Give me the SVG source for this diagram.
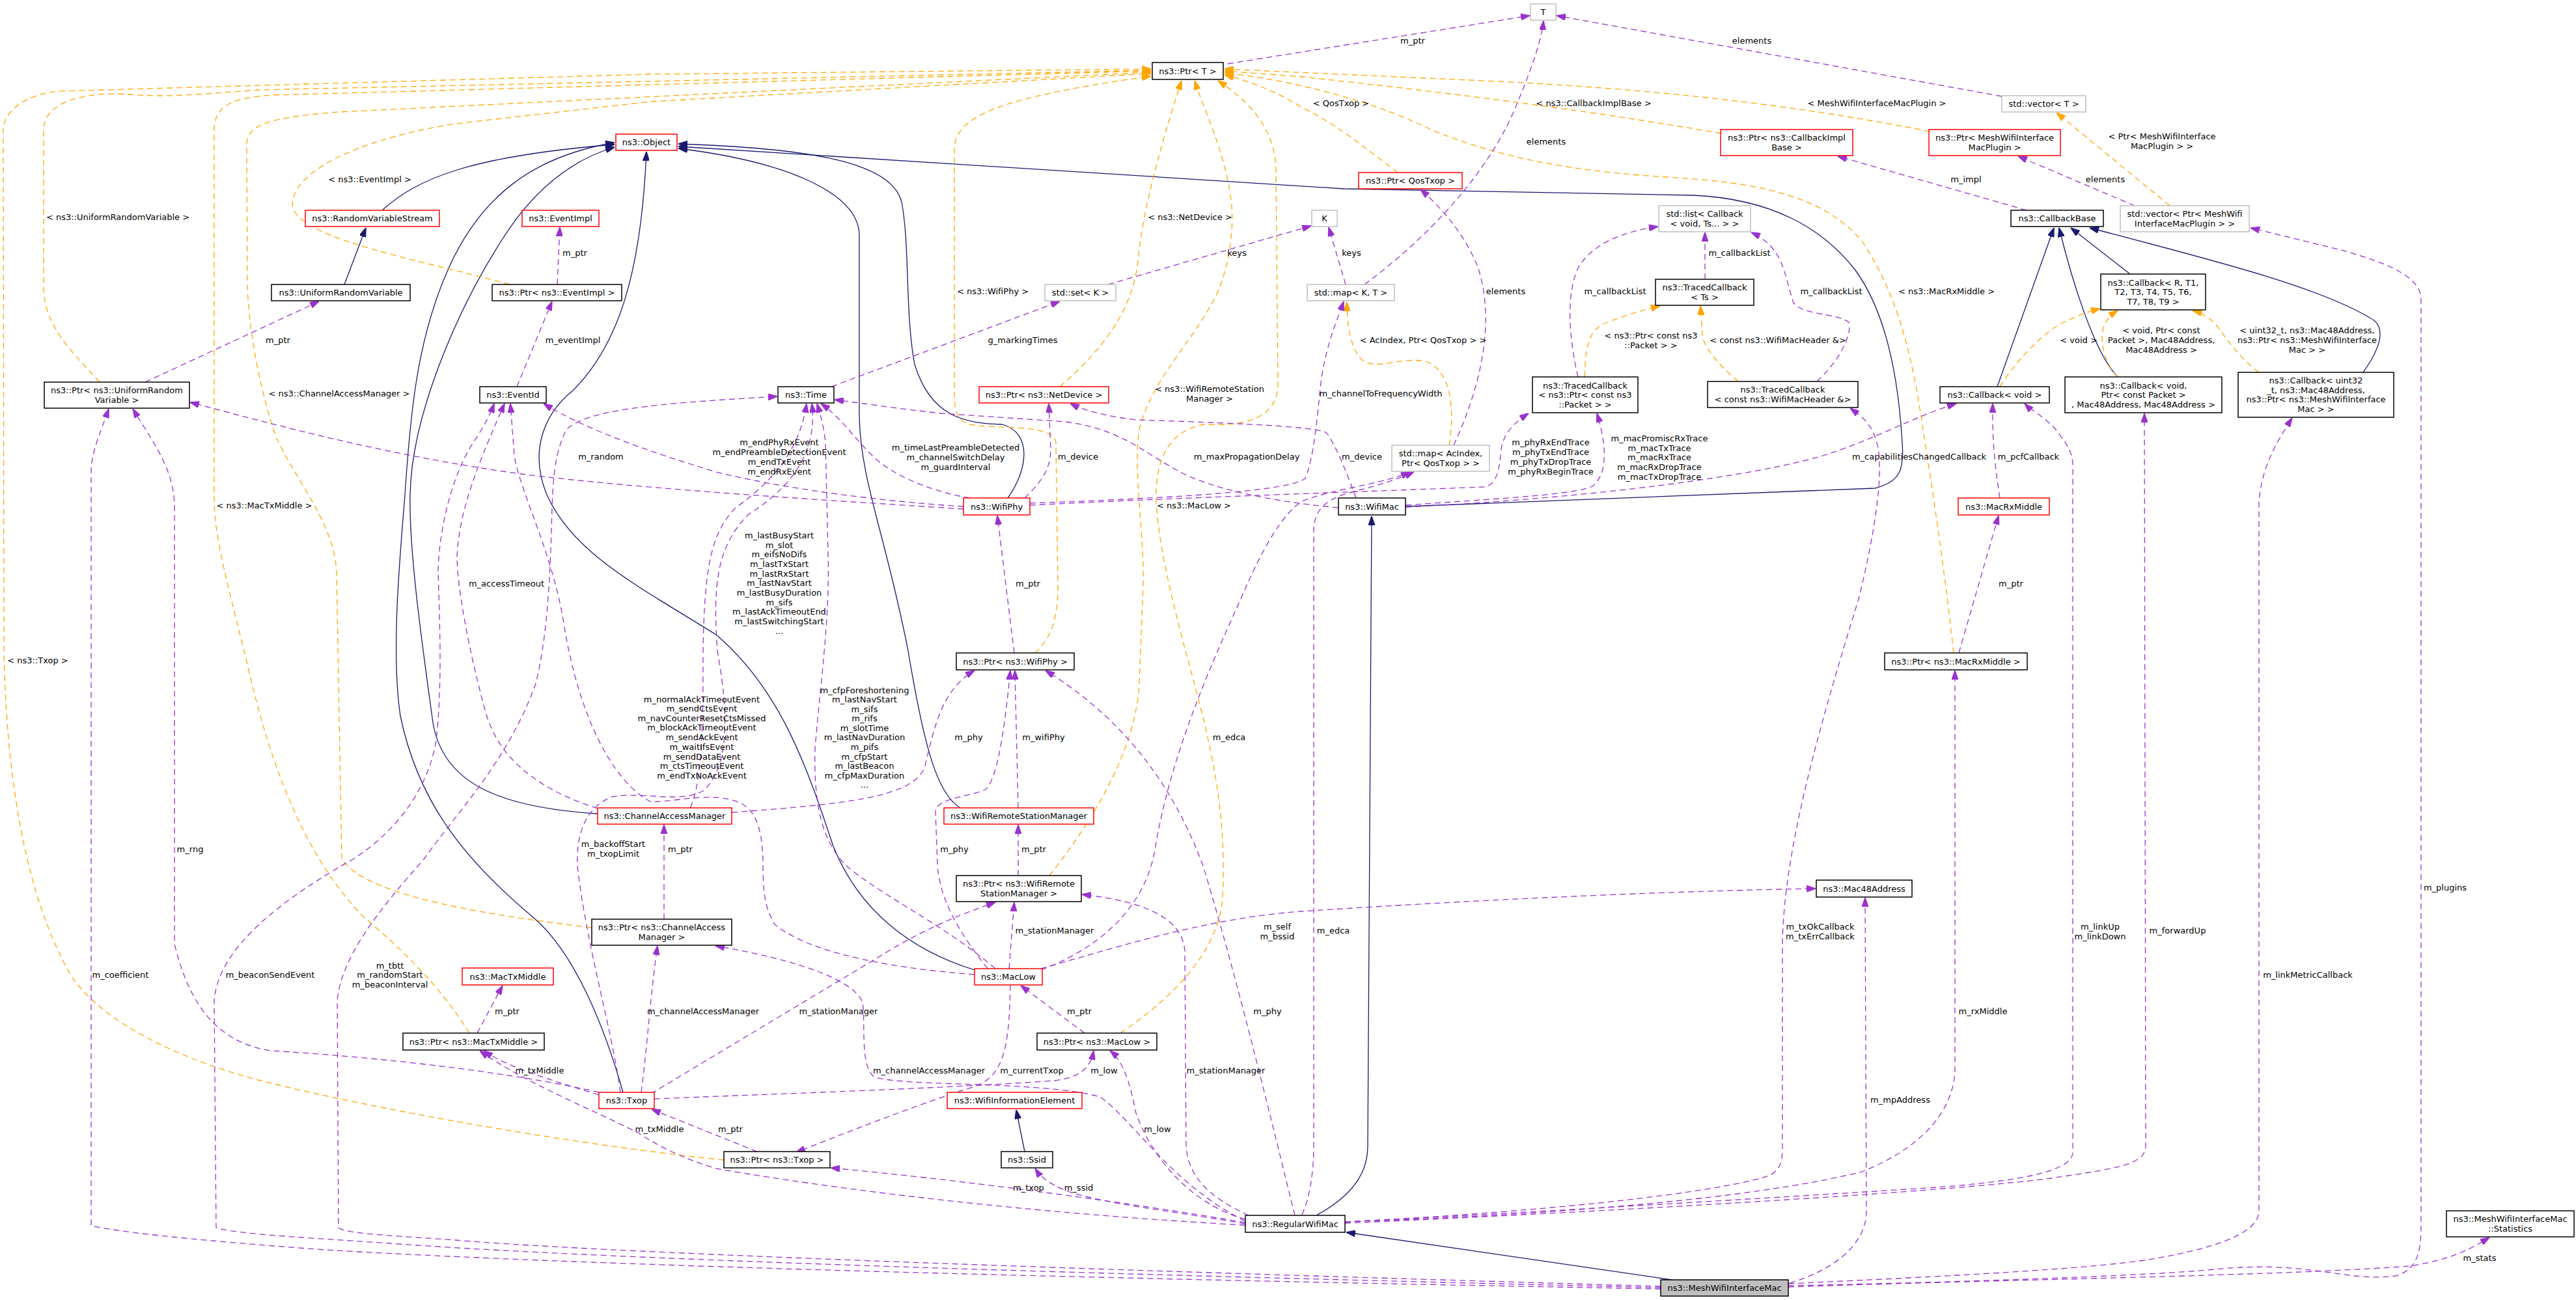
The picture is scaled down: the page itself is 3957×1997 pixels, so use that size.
<svg xmlns="http://www.w3.org/2000/svg" width="3957" height="1997" viewBox="0 0 3957 1997">
<style>
text{font-family:"DejaVu Sans","Liberation Sans",sans-serif;font-size:13px;text-anchor:middle;fill:#000}
.b{fill:#fff;stroke:#000;stroke-width:1.5}
.r{fill:#fff;stroke:#ff0000;stroke-width:1.5}
.g{fill:#fff;stroke:#bfbfbf;stroke-width:1.5}
.m{fill:#bfbfbf;stroke:#000;stroke-width:1.5}
#edges path{fill:none;stroke-width:1.3}
.i{stroke:#191970;marker-end:url(#ai)}
.u{stroke:#9a32cd;stroke-dasharray:9,6;marker-end:url(#au)}
.o{stroke:#ffa500;stroke-dasharray:9,6;marker-end:url(#ao)}
</style>
<defs>
<marker id="ai" viewBox="0 0 10 7" refX="10" refY="3.5" markerWidth="14" markerHeight="10" markerUnits="userSpaceOnUse" orient="auto"><path d="M0,0L10,3.5L0,7z" fill="#191970" stroke="#191970"/></marker>
<marker id="au" viewBox="0 0 10 7" refX="10" refY="3.5" markerWidth="14" markerHeight="10" markerUnits="userSpaceOnUse" orient="auto"><path d="M0,0L10,3.5L0,7z" fill="#9a32cd" stroke="#9a32cd"/></marker>
<marker id="ao" viewBox="0 0 10 7" refX="10" refY="3.5" markerWidth="14" markerHeight="10" markerUnits="userSpaceOnUse" orient="auto"><path d="M0,0L10,3.5L0,7z" fill="#ffa500" stroke="#ffa500"/></marker>
</defs>
<rect width="3957" height="1997" fill="#fff"/>
<g id="edges">
<path class="i" d="M587,323 C640,275 720,240 944,222"/>
<path class="i" d="M529,437 L562,350"/>
<path class="i" d="M918,1250 C760,1240 680,1200 665,1110 C650,1000 628,850 630,760 C632,640 700,480 770,370 C820,290 880,245 944,226"/>
<path class="i" d="M957,1678 C935,1600 890,1470 820,1410 C700,1310 640,1220 615,1100 C600,1000 615,850 622,760 C630,640 640,520 690,410 C740,300 820,240 944,219"/>
<path class="i" d="M1497,1490 C1400,1460 1320,1400 1280,1300 C1240,1180 1200,1060 1100,975 C980,900 880,850 840,760 C815,700 830,640 880,600 C950,530 985,420 993,233"/>
<path class="i" d="M1475,1241 C1440,1220 1420,1150 1395,1000 C1360,820 1322,740 1320,640 L1320,360 C1318,300 1220,250 1042,228"/>
<path class="i" d="M1548,765 C1580,720 1585,665 1540,652 C1480,650 1430,640 1405,560 C1390,480 1398,380 1385,310 C1370,250 1250,228 1042,221"/>
<path class="i" d="M2159,778 L2880,750 C2920,740 2925,720 2922,680 C2915,560 2890,470 2850,415 C2800,350 2720,305 2600,300 L2064,290 L1042,225"/>
<path class="i" d="M2022,1867 C2090,1830 2101,1790 2101,1760 L2107,793"/>
<path class="i" d="M2568,1966 L2068,1893"/>
<path class="i" d="M1574,1769 L1561,1705"/>
<path class="i" d="M3068,594 L3155,350"/>
<path class="i" d="M3253,579 C3215,540 3180,420 3163,350"/>
<path class="i" d="M3272,421 L3181,350"/>
<path class="i" d="M3630,572 C3660,530 3665,500 3640,488 C3560,440 3400,400 3210,350"/>

<path class="o" d="M153,587 C110,540 67,500 67,440 L67,200 C67,160 120,140 200,145 C260,150 300,145 400,138 L1768,108"/>
<path class="o" d="M783,437 C650,400 470,370 450,320 C440,270 540,215 700,190 L1000,156 L1768,113"/>
<path class="o" d="M909,1425 C700,1400 560,1370 525,1320 L517,880 C515,800 440,720 420,660 C395,580 382,500 380,440 L379,220 C380,190 420,180 520,172 L1768,111"/>
<path class="o" d="M721,1587 C680,1520 620,1460 560,1410 C480,1330 420,1200 380,1020 C340,860 329,820 329,760 L329,200 C329,160 360,150 420,146 L1768,109"/>
<path class="o" d="M1112,1782 C900,1760 600,1710 400,1660 C250,1620 150,1560 110,1500 C40,1380 10,1200 6,1000 L5,200 C5,170 40,145 90,140 L1000,114 L1768,106"/>
<path class="o" d="M1590,1003 C1615,980 1625,950 1625,900 L1622,680 C1620,650 1530,660 1490,652 C1468,645 1466,630 1466,600 L1466,230 C1466,180 1530,150 1768,117"/>
<path class="o" d="M1628,594 C1690,540 1740,480 1748,400 C1755,320 1790,200 1815,124"/>
<path class="o" d="M1612,1345 C1680,1260 1745,1150 1750,1050 L1756,900 C1758,820 1740,720 1750,660 C1770,580 1830,530 1870,450 C1895,390 1895,330 1890,300 C1880,230 1850,170 1835,124"/>
<path class="o" d="M1721,1587 C1790,1540 1870,1470 1878,1380 C1885,1250 1860,1150 1840,1070 C1810,960 1780,850 1776,770 C1774,700 1800,660 1850,652 C1920,655 1962,640 1963,590 L1960,260 C1958,190 1910,150 1871,124"/>
<path class="o" d="M2147,265 C2100,230 2060,195 2000,165 C1960,140 1920,125 1881,115"/>
<path class="o" d="M2644,205 C2500,180 2300,150 2000,118 L1881,109"/>
<path class="o" d="M2965,202 C2800,170 2600,140 2300,125 L1881,106"/>
<path class="o" d="M3001,1003 C2990,900 2970,760 2957,680 C2940,560 2920,460 2860,370 C2800,300 2700,280 2560,272 C2400,262 2300,240 2200,200 C2120,160 2000,125 1881,112"/>
<path class="o" d="M2226,684 C2235,630 2230,570 2190,555 C2150,548 2120,568 2095,555 C2075,540 2069,500 2069,464"/>
<path class="o" d="M2434,579 C2436,530 2440,505 2470,495 C2500,483 2525,476 2550,470"/>
<path class="o" d="M2670,586 C2640,560 2618,535 2615,515 L2612,470"/>
<path class="o" d="M3333,316 L3159,173"/>
<path class="o" d="M3072,594 C3100,550 3140,510 3170,495 C3190,485 3210,478 3226,474"/>
<path class="o" d="M3253,579 C3230,555 3225,520 3232,500 C3238,488 3245,482 3253,477"/>
<path class="o" d="M3470,572 C3440,550 3420,520 3405,500 C3395,488 3380,480 3368,477"/>

<path class="u" d="M1886,98 L2350,24"/>
<path class="u" d="M3075,148 L2391,24"/>
<path class="u" d="M2096,437 C2200,360 2290,260 2330,160 C2355,100 2368,60 2371,32"/>
<path class="u" d="M1702,437 L2014,347"/>
<path class="u" d="M2067,437 L2041,349"/>
<path class="u" d="M2233,684 C2290,560 2290,470 2270,410 C2250,360 2215,320 2182,291"/>
<path class="u" d="M3113,323 L2823,240"/>
<path class="u" d="M3279,316 L3100,240"/>
<path class="u" d="M2619,429 L2619,357"/>
<path class="u" d="M2424,579 C2410,520 2405,450 2425,410 C2450,370 2500,355 2547,348"/>
<path class="u" d="M2791,586 C2830,550 2845,510 2840,495 C2820,480 2770,485 2755,465 C2740,420 2740,380 2690,357"/>
<path class="u" d="M223,587 L490,463"/>
<path class="u" d="M856,437 L860,349"/>
<path class="u" d="M794,594 L848,463"/>
<path class="u" d="M1277,594 L1628,463"/>
<path class="u" d="M1558,1003 L1532,792"/>
<path class="u" d="M3009,1003 L3070,792"/>
<path class="u" d="M3072,765 C3065,720 3060,680 3061,620"/>
<path class="u" d="M1564,1345 L1564,1267"/>
<path class="u" d="M1020,1412 L1020,1267"/>
<path class="u" d="M733,1587 L772,1514"/>
<path class="u" d="M1666,1587 L1568,1514"/>
<path class="u" d="M1163,1769 L1001,1704"/>
<path class="u" d="M1124,1248 C1300,1235 1400,1225 1420,1180 C1435,1120 1445,1060 1497,1030"/>
<path class="u" d="M1564,1241 L1559,1030"/>
<path class="u" d="M1517,1488 C1480,1440 1445,1390 1440,1330 L1437,1245 C1440,1225 1500,1222 1515,1212 C1535,1190 1545,1100 1552,1030"/>
<path class="u" d="M1989,1867 C1960,1750 1900,1500 1848,1330 C1800,1200 1720,1100 1606,1030"/>
<path class="u" d="M1550,1488 L1558,1386"/>
<path class="u" d="M1000,1680 C1100,1620 1250,1530 1350,1470 C1430,1420 1490,1400 1529,1386"/>
<path class="u" d="M1918,1867 C1860,1840 1825,1810 1822,1760 L1820,1460 C1815,1410 1760,1385 1662,1374"/>
<path class="u" d="M985,1678 C995,1600 1000,1520 1010,1453"/>
<path class="u" d="M1913,1876 C1800,1820 1740,1720 1690,1685 C1600,1660 1400,1670 1344,1655 C1320,1640 1330,1570 1325,1540 C1310,1500 1200,1470 1099,1453"/>
<path class="u" d="M1005,1688 C1200,1680 1450,1672 1620,1660 C1660,1655 1675,1640 1680,1614"/>
<path class="u" d="M1913,1873 C1830,1850 1770,1780 1745,1710 C1735,1660 1725,1630 1705,1614"/>
<path class="u" d="M1552,1513 C1550,1600 1545,1650 1500,1668 C1400,1700 1300,1740 1223,1770"/>
<path class="u" d="M1913,1878 C1750,1850 1500,1815 1276,1794"/>
<path class="u" d="M1913,1880 C1800,1860 1700,1850 1640,1830 C1615,1820 1600,1810 1590,1795"/>
<path class="u" d="M920,1682 C850,1660 780,1640 743,1614"/>
<path class="u" d="M1913,1882 C1600,1865 1300,1830 1100,1795 C1050,1780 1010,1760 980,1740 C900,1700 800,1660 737,1614"/>
<path class="u" d="M1599,1488 C1700,1460 1850,1410 2000,1400 C2300,1380 2600,1368 2789,1365"/>
<path class="u" d="M2066,1877 C2400,1860 2800,1835 2960,1825 C3100,1815 3184,1800 3184,1770 L3184,716 C3184,690 3170,677 3158,660 C3140,640 3120,630 3110,620"/>
<path class="u" d="M2066,1879 C2500,1860 3000,1830 3150,1810 C3250,1795 3296,1790 3296,1760 L3294,635"/>
<path class="u" d="M2747,1972 C3000,1960 3200,1950 3300,1935 C3420,1915 3470,1890 3470,1860 L3470,770 C3475,720 3490,690 3521,642"/>
<path class="u" d="M2747,1975 C3000,1970 3300,1960 3400,1950 C3550,1935 3600,1970 3680,1960 C3715,1950 3719,1920 3719,1880 L3719,460 C3719,420 3650,400 3600,385 L3457,350"/>
<path class="u" d="M2747,1977 C3100,1965 3500,1960 3700,1945 C3770,1935 3800,1915 3824,1901"/>
<path class="u" d="M2066,1877 C2400,1866 2700,1840 2860,1800 C2960,1760 3003,1700 3003,1640 L3003,1030"/>
<path class="u" d="M2749,1971 C2820,1950 2867,1910 2867,1860 L2865,1379"/>
<path class="u" d="M2066,1877 C2400,1860 2650,1830 2720,1805 C2735,1795 2738,1785 2738,1760 L2738,1450 C2740,1300 2800,1100 2855,920 C2880,820 2895,720 2883,680 C2875,650 2860,640 2842,627"/>
<path class="u" d="M2000,1866 C2012,1840 2018,1800 2018,1760 L2018,812 C2020,780 2040,765 2080,755 C2120,745 2150,735 2172,725"/>
<path class="u" d="M1599,1490 C1680,1460 1760,1400 1775,1300 C1800,1150 1870,1000 1906,920 C1940,840 1970,790 2000,770 C2050,750 2120,745 2166,725"/>
<path class="u" d="M2083,765 C2070,730 2055,690 2038,665 C2020,655 1900,650 1746,645 C1700,640 1665,630 1644,620"/>
<path class="u" d="M2056,780 C1950,770 1850,750 1797,716 C1750,690 1720,660 1638,648 L1446,635 C1380,628 1330,620 1282,614"/>
<path class="u" d="M2159,776 C2300,766 2420,760 2446,747 C2468,730 2470,690 2453,635"/>
<path class="u" d="M2159,779 C2450,765 2700,730 2800,700 C2880,675 2940,640 3005,620"/>
<path class="u" d="M1582,776 C1800,765 2100,755 2280,748 C2300,745 2303,720 2306,690 C2310,665 2325,650 2348,635"/>
<path class="u" d="M1582,773 C1800,765 1980,755 2005,735 C2020,700 2025,620 2030,580 C2040,520 2055,490 2064,463"/>
<path class="u" d="M1574,765 C1600,740 1614,720 1614,690 L1611,620"/>
<path class="u" d="M1490,765 C1430,755 1370,730 1340,700 C1310,670 1290,640 1261,620"/>
<path class="u" d="M1480,778 C1350,770 1200,750 1100,725 C1000,695 900,660 835,620"/>
<path class="u" d="M1480,782 C1300,770 1000,753 800,728 C600,700 450,660 292,618"/>
<path class="u" d="M1060,1241 C1080,1200 1080,1100 1080,1000 C1082,880 1090,820 1130,780 C1200,730 1230,680 1239,620"/>
<path class="u" d="M953,1678 C940,1580 900,1450 887,1330 C885,1280 900,1240 940,1224 C990,1215 1040,1235 1080,1215 C1120,1180 1120,1100 1102,1000 C1095,900 1100,840 1150,790 C1230,740 1255,680 1247,620"/>
<path class="u" d="M1529,1488 C1450,1420 1360,1380 1300,1330 C1260,1290 1250,1230 1252,1150 C1260,1050 1275,950 1272,850 L1268,680 C1265,650 1258,630 1255,620"/>
<path class="u" d="M1497,1497 C1400,1490 1250,1470 1190,1420 C1172,1390 1172,1360 1172,1320 C1170,1280 1165,1250 1140,1235 C1100,1215 1050,1230 1000,1232 C940,1200 890,1100 867,964 C850,850 800,760 790,700 L784,620"/>
<path class="u" d="M918,1242 C850,1220 770,1180 746,1094 C720,1000 702,900 702,855 C705,780 740,700 775,620"/>
<path class="u" d="M2551,1980 C2000,1970 1000,1950 500,1920 C300,1905 200,1895 140,1883 L140,720 C142,690 156,660 167,628"/>
<path class="u" d="M2551,1978 C2000,1965 1000,1940 600,1910 C450,1900 360,1895 332,1886 L329,1536 C335,1470 400,1400 542,1320 C620,1270 660,1200 670,1137 C680,1050 675,950 673,877 C675,800 700,720 727,680 C740,660 752,640 759,620"/>
<path class="u" d="M2551,1976 C2000,1960 1000,1930 700,1905 C600,1898 530,1895 520,1886 L518,1536 C525,1470 580,1400 651,1320 C700,1250 780,1170 823,1050 C840,980 845,900 848,780 C850,720 855,690 870,660 C900,630 1000,620 1194,609"/>
<path class="u" d="M920,1678 C800,1650 600,1625 415,1614 C330,1600 290,1540 268,1450 L268,780 C268,720 235,680 204,628"/>

<text x="181" y="338">&lt; ns3::UniformRandomVariable &gt;</text>
<text x="568" y="280">&lt; ns3::EventImpl &gt;</text>
<text x="521" y="609">&lt; ns3::ChannelAccessManager &gt;</text>
<text x="406" y="781">&lt; ns3::MacTxMiddle &gt;</text>
<text x="58" y="1019">&lt; ns3::Txop &gt;</text>
<text x="1525" y="452">&lt; ns3::WifiPhy &gt;</text>
<text x="1828" y="338">&lt; ns3::NetDevice &gt;</text>
<text x="1858" y="602">&lt; ns3::WifiRemoteStation</text>
<text x="1858" y="617">Manager &gt;</text>
<text x="1834" y="781">&lt; ns3::MacLow &gt;</text>
<text x="2060" y="163">&lt; QosTxop &gt;</text>
<text x="2448" y="163">&lt; ns3::CallbackImplBase &gt;</text>
<text x="2883" y="163">&lt; MeshWifiInterfaceMacPlugin &gt;</text>
<text x="2990" y="452">&lt; ns3::MacRxMiddle &gt;</text>
<text x="2186" y="527">&lt; AcIndex, Ptr&lt; QosTxop &gt; &gt;</text>
<text x="2536" y="520">&lt; ns3::Ptr&lt; const ns3</text>
<text x="2536" y="535">::Packet &gt; &gt;</text>
<text x="2731" y="527">&lt; const ns3::WifiMacHeader &amp;&gt;</text>
<text x="3321" y="214">&lt; Ptr&lt; MeshWifiInterface</text>
<text x="3321" y="229">MacPlugin &gt; &gt;</text>
<text x="3193" y="527">&lt; void &gt;</text>
<text x="3320" y="512">&lt; void, Ptr&lt; const</text>
<text x="3320" y="527">Packet &gt;, Mac48Address,</text>
<text x="3320" y="542">Mac48Address &gt;</text>
<text x="3544" y="512">&lt; uint32_t, ns3::Mac48Address,</text>
<text x="3544" y="527">ns3::Ptr&lt; ns3::MeshWifiInterface</text>
<text x="3544" y="542">Mac &gt; &gt;</text>

<text x="2170" y="67">m_ptr</text>
<text x="2691" y="67">elements</text>
<text x="2375" y="222">elements</text>
<text x="1900" y="393">keys</text>
<text x="2076" y="393">keys</text>
<text x="2313" y="452">elements</text>
<text x="3020" y="280">m_impl</text>
<text x="3234" y="280">elements</text>
<text x="2672" y="393">m_callbackList</text>
<text x="2481" y="452">m_callbackList</text>
<text x="2813" y="452">m_callbackList</text>
<text x="427" y="527">m_ptr</text>
<text x="883" y="393">m_ptr</text>
<text x="880" y="527">m_eventImpl</text>
<text x="1571" y="527">g_markingTimes</text>
<text x="1579" y="901">m_ptr</text>
<text x="3089" y="901">m_ptr</text>
<text x="3116" y="706">m_pcfCallback</text>
<text x="1588" y="1309">m_ptr</text>
<text x="1045" y="1309">m_ptr</text>
<text x="779" y="1558">m_ptr</text>
<text x="1658" y="1558">m_ptr</text>
<text x="1122" y="1739">m_ptr</text>
<text x="1488" y="1137">m_phy</text>
<text x="1603" y="1137">m_wifiPhy</text>
<text x="1466" y="1309">m_phy</text>
<text x="1947" y="1558">m_phy</text>
<text x="1620" y="1434">m_stationManager</text>
<text x="1288" y="1558">m_stationManager</text>
<text x="1883" y="1649">m_stationManager</text>
<text x="1080" y="1558">m_channelAccessManager</text>
<text x="1427" y="1649">m_channelAccessManager</text>
<text x="1696" y="1649">m_low</text>
<text x="1778" y="1739">m_low</text>
<text x="1585" y="1649">m_currentTxop</text>
<text x="1580" y="1829">m_txop</text>
<text x="1657" y="1829">m_ssid</text>
<text x="829" y="1649">m_txMiddle</text>
<text x="1013" y="1739">m_txMiddle</text>
<text x="1962" y="1428">m_self</text>
<text x="1962" y="1443">m_bssid</text>
<text x="3226" y="1428">m_linkUp</text>
<text x="3226" y="1443">m_linkDown</text>
<text x="3345" y="1434">m_forwardUp</text>
<text x="3545" y="1502">m_linkMetricCallback</text>
<text x="3756" y="1368">m_plugins</text>
<text x="3809" y="1937">m_stats</text>
<text x="3046" y="1558">m_rxMiddle</text>
<text x="2919" y="1694">m_mpAddress</text>
<text x="2796" y="1428">m_txOkCallback</text>
<text x="2796" y="1443">m_txErrCallback</text>
<text x="2048" y="1434">m_edca</text>
<text x="1888" y="1137">m_edca</text>
<text x="2092" y="706">m_device</text>
<text x="1915" y="706">m_maxPropagationDelay</text>
<text x="2549" y="678">m_macPromiscRxTrace</text>
<text x="2549" y="693">m_macTxTrace</text>
<text x="2549" y="707">m_macRxTrace</text>
<text x="2549" y="722">m_macRxDropTrace</text>
<text x="2549" y="737">m_macTxDropTrace</text>
<text x="2948" y="706">m_capabilitiesChangedCallback</text>
<text x="2382" y="684">m_phyRxEndTrace</text>
<text x="2382" y="699">m_phyTxEndTrace</text>
<text x="2382" y="714">m_phyTxDropTrace</text>
<text x="2382" y="729">m_phyRxBeginTrace</text>
<text x="2121" y="609">m_channelToFrequencyWidth</text>
<text x="1656" y="706">m_device</text>
<text x="1468" y="692">m_timeLastPreambleDetected</text>
<text x="1468" y="707">m_channelSwitchDelay</text>
<text x="1468" y="722">m_guardInterval</text>
<text x="1197" y="684">m_endPhyRxEvent</text>
<text x="1197" y="699">m_endPreambleDetectionEvent</text>
<text x="1197" y="714">m_endTxEvent</text>
<text x="1197" y="729">m_endRxEvent</text>
<text x="923" y="706">m_random</text>
<text x="1197" y="827">m_lastBusyStart</text>
<text x="1197" y="842">m_slot</text>
<text x="1197" y="856">m_eifsNoDifs</text>
<text x="1197" y="871">m_lastTxStart</text>
<text x="1197" y="886">m_lastRxStart</text>
<text x="1197" y="900">m_lastNavStart</text>
<text x="1197" y="915">m_lastBusyDuration</text>
<text x="1197" y="930">m_sifs</text>
<text x="1197" y="944">m_lastAckTimeoutEnd</text>
<text x="1197" y="959">m_lastSwitchingStart</text>
<text x="1197" y="974">...</text>
<text x="942" y="1301">m_backoffStart</text>
<text x="942" y="1316">m_txopLimit</text>
<text x="1328" y="1065">m_cfpForeshortening</text>
<text x="1328" y="1079">m_lastNavStart</text>
<text x="1328" y="1094">m_sifs</text>
<text x="1328" y="1108">m_rifs</text>
<text x="1328" y="1123">m_slotTime</text>
<text x="1328" y="1137">m_lastNavDuration</text>
<text x="1328" y="1152">m_pifs</text>
<text x="1328" y="1167">m_cfpStart</text>
<text x="1328" y="1181">m_lastBeacon</text>
<text x="1328" y="1196">m_cfpMaxDuration</text>
<text x="1328" y="1210">...</text>
<text x="1078" y="1079">m_normalAckTimeoutEvent</text>
<text x="1078" y="1093">m_sendCtsEvent</text>
<text x="1078" y="1108">m_navCounterResetCtsMissed</text>
<text x="1078" y="1122">m_blockAckTimeoutEvent</text>
<text x="1078" y="1137">m_sendAckEvent</text>
<text x="1078" y="1152">m_waitIfsEvent</text>
<text x="1078" y="1167">m_sendDataEvent</text>
<text x="1078" y="1181">m_ctsTimeoutEvent</text>
<text x="1078" y="1196">m_endTxNoAckEvent</text>
<text x="778" y="901">m_accessTimeout</text>
<text x="185" y="1502">m_coefficient</text>
<text x="415" y="1502">m_beaconSendEvent</text>
<text x="599" y="1488">m_tbtt</text>
<text x="599" y="1502">m_randomStart</text>
<text x="599" y="1517">m_beaconInterval</text>
<text x="292" y="1309">m_rng</text>
</g>

<g id="n_T"><rect class="g" x="2351" y="6" width="39" height="25"/><text x="2370.5" y="23">T</text></g>
<g id="n_PtrT"><rect class="b" x="1770" y="96" width="109" height="26"/><text x="1824.5" y="113.5">ns3::Ptr&lt; T &gt;</text></g>
<g id="n_Object"><rect class="r" x="946" y="206" width="94" height="25"/><text x="993" y="223">ns3::Object</text></g>
<g id="n_RVS"><rect class="r" x="469" y="323" width="206" height="25"/><text x="572" y="340">ns3::RandomVariableStream</text></g>
<g id="n_EventImpl"><rect class="r" x="802" y="323" width="118" height="25"/><text x="861" y="340">ns3::EventImpl</text></g>
<g id="n_URV"><rect class="b" x="417" y="437" width="213" height="25"/><text x="523.5" y="454">ns3::UniformRandomVariable</text></g>
<g id="n_PtrEventImpl"><rect class="b" x="756" y="437" width="199" height="25"/><text x="855.5" y="454">ns3::Ptr&lt; ns3::EventImpl &gt;</text></g>
<g id="n_PtrURV"><rect class="b" x="68" y="587" width="223" height="40"/><text x="179.5" y="604">ns3::Ptr&lt; ns3::UniformRandom</text><text x="179.5" y="619">Variable &gt;</text></g>
<g id="n_EventId"><rect class="b" x="737" y="594" width="102" height="25"/><text x="788" y="611">ns3::EventId</text></g>
<g id="n_StdSet"><rect class="g" x="1605" y="437" width="109" height="25"/><text x="1659.5" y="454">std::set&lt; K &gt;</text></g>
<g id="n_Time"><rect class="b" x="1195" y="594" width="86" height="25"/><text x="1238" y="611">ns3::Time</text></g>
<g id="n_PtrNetDevice"><rect class="r" x="1504" y="594" width="199" height="25"/><text x="1603.5" y="611">ns3::Ptr&lt; ns3::NetDevice &gt;</text></g>
<g id="n_PtrCallbackImplBase"><rect class="r" x="2643" y="199" width="203" height="40"/><text x="2744.5" y="216">ns3::Ptr&lt; ns3::CallbackImpl</text><text x="2744.5" y="231">Base &gt;</text></g>
<g id="n_PtrQosTxop"><rect class="r" x="2087" y="265" width="159" height="25"/><text x="2166.5" y="282">ns3::Ptr&lt; QosTxop &gt;</text></g>
<g id="n_K"><rect class="g" x="2015" y="323" width="39" height="25"/><text x="2034.5" y="340">K</text></g>
<g id="n_StdList"><rect class="g" x="2548" y="316" width="141" height="40"/><text x="2618.5" y="333">std::list&lt; Callback</text><text x="2618.5" y="348">&lt; void, Ts... &gt; &gt;</text></g>
<g id="n_StdMapKT"><rect class="g" x="2008" y="437" width="134" height="25"/><text x="2075" y="454">std::map&lt; K, T &gt;</text></g>
<g id="n_TCTs"><rect class="b" x="2543" y="429" width="151" height="40"/><text x="2618.5" y="446">ns3::TracedCallback</text><text x="2618.5" y="461">&lt; Ts &gt;</text></g>
<g id="n_TCPkt"><rect class="b" x="2354" y="579" width="162" height="55"/><text x="2435" y="596.5">ns3::TracedCallback</text><text x="2435" y="611">&lt; ns3::Ptr&lt; const ns3</text><text x="2435" y="625.5">::Packet &gt; &gt;</text></g>
<g id="n_TCHdr"><rect class="b" x="2623" y="586" width="231" height="40"/><text x="2738.5" y="603">ns3::TracedCallback</text><text x="2738.5" y="618">&lt; const ns3::WifiMacHeader &amp;&gt;</text></g>
<g id="n_StdVectorT"><rect class="g" x="3075" y="147" width="129" height="25"/><text x="3139.5" y="164">std::vector&lt; T &gt;</text></g>
<g id="n_PtrMeshPlugin"><rect class="r" x="2963" y="199" width="202" height="40"/><text x="3064" y="216">ns3::Ptr&lt; MeshWifiInterface</text><text x="3064" y="231">MacPlugin &gt;</text></g>
<g id="n_CallbackBase"><rect class="b" x="3089" y="323" width="142" height="25"/><text x="3160" y="340">ns3::CallbackBase</text></g>
<g id="n_StdVectorPtr"><rect class="g" x="3257" y="316" width="198" height="40"/><text x="3356" y="333">std::vector&lt; Ptr&lt; MeshWifi</text><text x="3356" y="348">InterfaceMacPlugin &gt; &gt;</text></g>
<g id="n_CallbackR"><rect class="b" x="3227" y="421" width="161" height="55"/><text x="3307.5" y="438.5">ns3::Callback&lt; R, T1,</text><text x="3307.5" y="453">T2, T3, T4, T5, T6,</text><text x="3307.5" y="467.5">T7, T8, T9 &gt;</text></g>
<g id="n_CallbackVoid"><rect class="b" x="2980" y="594" width="168" height="25"/><text x="3064" y="611">ns3::Callback&lt; void &gt;</text></g>
<g id="n_CallbackVoidPkt"><rect class="b" x="3172" y="579" width="241" height="55"/><text x="3292.5" y="596.5">ns3::Callback&lt; void,</text><text x="3292.5" y="611">Ptr&lt; const Packet &gt;</text><text x="3292.5" y="625.5">, Mac48Address, Mac48Address &gt;</text></g>
<g id="n_CallbackUint"><rect class="b" x="3438" y="572" width="239" height="69"/><text x="3557.5" y="589">ns3::Callback&lt; uint32</text><text x="3557.5" y="604">_t, ns3::Mac48Address,</text><text x="3557.5" y="618">ns3::Ptr&lt; ns3::MeshWifiInterface</text><text x="3557.5" y="633">Mac &gt; &gt;</text></g>
<g id="n_CAM"><rect class="r" x="918" y="1241" width="206" height="25"/><text x="1021" y="1258">ns3::ChannelAccessManager</text></g>
<g id="n_WifiPhy"><rect class="r" x="1480" y="765" width="102" height="26"/><text x="1531" y="782.5">ns3::WifiPhy</text></g>
<g id="n_PtrWifiPhy"><rect class="b" x="1469" y="1003" width="181" height="26"/><text x="1559.5" y="1020.5">ns3::Ptr&lt; ns3::WifiPhy &gt;</text></g>
<g id="n_WRSM"><rect class="r" x="1450" y="1241" width="230" height="25"/><text x="1565" y="1258">ns3::WifiRemoteStationManager</text></g>
<g id="n_WifiMac"><rect class="b" x="2056" y="765" width="103" height="26"/><text x="2107.5" y="782.5">ns3::WifiMac</text></g>
<g id="n_StdMapAc"><rect class="g" x="2138" y="684" width="150" height="40"/><text x="2213" y="701">std::map&lt; AcIndex,</text><text x="2213" y="716">Ptr&lt; QosTxop &gt; &gt;</text></g>
<g id="n_PtrMacRxMiddle"><rect class="b" x="2895" y="1003" width="219" height="26"/><text x="3004.5" y="1020.5">ns3::Ptr&lt; ns3::MacRxMiddle &gt;</text></g>
<g id="n_MacRxMiddle"><rect class="r" x="3008" y="765" width="140" height="26"/><text x="3078" y="782.5">ns3::MacRxMiddle</text></g>
<g id="n_PtrCAM"><rect class="b" x="909" y="1412" width="215" height="40"/><text x="1016.5" y="1429">ns3::Ptr&lt; ns3::ChannelAccess</text><text x="1016.5" y="1444">Manager &gt;</text></g>
<g id="n_MacTxMiddle"><rect class="r" x="710" y="1487" width="140" height="26"/><text x="780" y="1504.5">ns3::MacTxMiddle</text></g>
<g id="n_PtrMacTxMiddle"><rect class="b" x="619" y="1587" width="217" height="26"/><text x="727.5" y="1604.5">ns3::Ptr&lt; ns3::MacTxMiddle &gt;</text></g>
<g id="n_Txop"><rect class="r" x="920" y="1678" width="85" height="25"/><text x="962.5" y="1695">ns3::Txop</text></g>
<g id="n_PtrWRSM"><rect class="b" x="1469" y="1345" width="192" height="40"/><text x="1565" y="1362">ns3::Ptr&lt; ns3::WifiRemote</text><text x="1565" y="1377">StationManager &gt;</text></g>
<g id="n_MacLow"><rect class="r" x="1497" y="1488" width="104" height="25"/><text x="1549" y="1505">ns3::MacLow</text></g>
<g id="n_PtrMacLow"><rect class="b" x="1593" y="1587" width="184" height="26"/><text x="1685" y="1604.5">ns3::Ptr&lt; ns3::MacLow &gt;</text></g>
<g id="n_WifiInfoElem"><rect class="r" x="1455" y="1678" width="207" height="25"/><text x="1558.5" y="1695">ns3::WifiInformationElement</text></g>
<g id="n_PtrTxop"><rect class="b" x="1112" y="1769" width="163" height="25"/><text x="1193.5" y="1786">ns3::Ptr&lt; ns3::Txop &gt;</text></g>
<g id="n_Ssid"><rect class="b" x="1538" y="1769" width="79" height="25"/><text x="1577.5" y="1786">ns3::Ssid</text></g>
<g id="n_RegularWifiMac"><rect class="b" x="1913" y="1867" width="153" height="26"/><text x="1989.5" y="1884.5">ns3::RegularWifiMac</text></g>
<g id="n_Mac48Address"><rect class="b" x="2790" y="1352" width="147" height="26"/><text x="2863.5" y="1369.5">ns3::Mac48Address</text></g>
<g id="n_MeshWifiInterfaceMac"><rect class="m" x="2551" y="1966" width="196" height="25"/><text x="2649" y="1983">ns3::MeshWifiInterfaceMac</text></g>
<g id="n_Statistics"><rect class="b" x="3758" y="1860" width="196" height="40"/><text x="3856" y="1877">ns3::MeshWifiInterfaceMac</text><text x="3856" y="1892">::Statistics</text></g>
</svg>
